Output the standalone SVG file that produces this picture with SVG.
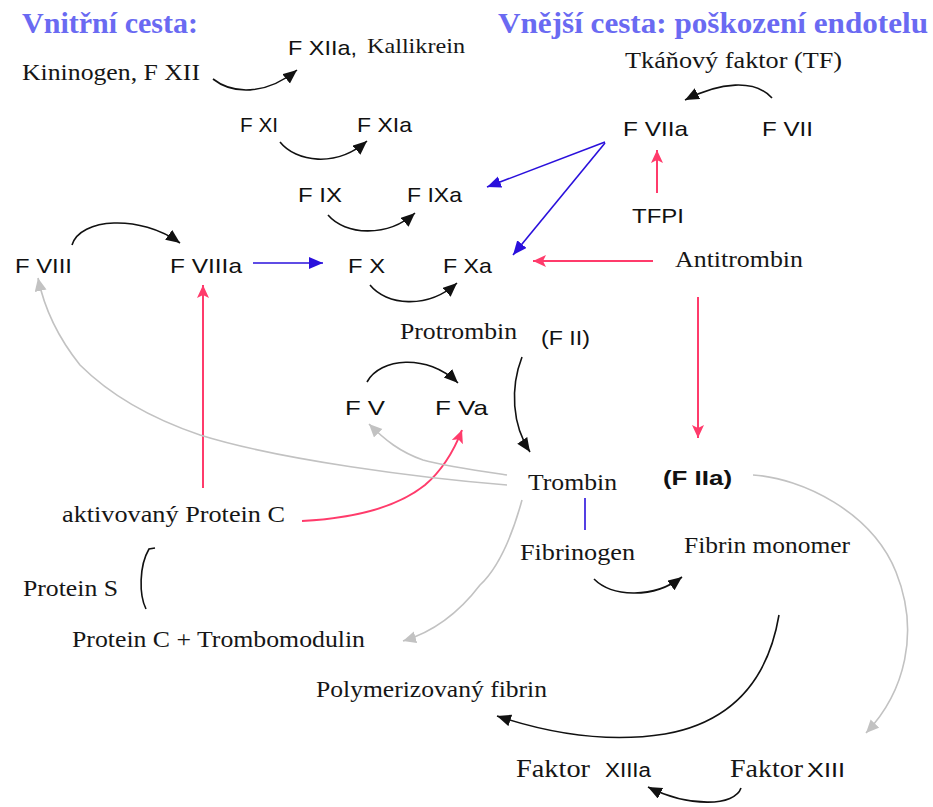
<svg xmlns="http://www.w3.org/2000/svg" width="933" height="807" viewBox="0 0 933 807">
<style>
.t{font-family:"Liberation Serif","Times New Roman",serif;font-size:24px;fill:#161616}
.s{font-family:"Liberation Sans",Arial,sans-serif;font-size:21px;fill:#111}
.h{font-family:"Liberation Serif","Times New Roman",serif;font-size:30px;font-weight:bold;fill:#6a6af2}
.k{fill:none;stroke:#111;stroke-width:1.6}
.b{fill:none;stroke:#2a10dc;stroke-width:1.6}
.r{fill:none;stroke:#ff3b6b;stroke-width:2}
.g{fill:none;stroke:#c2c2c2;stroke-width:1.6}
</style>
<defs>
<marker id="ak" markerUnits="userSpaceOnUse" markerWidth="16" markerHeight="14" refX="14" refY="6" orient="auto"><path d="M0,0L14,6L0,12z" fill="#111"/></marker>
<marker id="ab" markerUnits="userSpaceOnUse" markerWidth="16" markerHeight="14" refX="14" refY="6" orient="auto"><path d="M0,0L14,6L0,12z" fill="#2a10dc"/></marker>
<marker id="ar" markerUnits="userSpaceOnUse" markerWidth="16" markerHeight="14" refX="13" refY="6" orient="auto"><path d="M0,0L13,6L0,12l3,-6z" fill="#ff3b6b"/></marker>
<marker id="ag" markerUnits="userSpaceOnUse" markerWidth="16" markerHeight="14" refX="13" refY="6" orient="auto"><path d="M0,0L13,6L0,12z" fill="#c2c2c2"/></marker>
</defs>
<rect width="933" height="807" fill="#fff"/>

<g id="connectors">
<path class="k" d="M213,79 C232,94 265,96 297,70" marker-end="url(#ak)"/>
<path class="k" d="M280,142 C296,162 336,168 367,141" marker-end="url(#ak)"/>
<path class="k" d="M328,215 C345,235 387,238 415,213" marker-end="url(#ak)"/>
<path class="k" d="M72,245 C80,218 140,214 180,243" marker-end="url(#ak)"/>
<path class="k" d="M370,285 C386,305 427,310 457,283" marker-end="url(#ak)"/>
<path class="k" d="M367,382 C380,358 427,353 458,383" marker-end="url(#ak)"/>
<path class="k" d="M522,357 C510,388 512,425 530,452" marker-end="url(#ak)"/>
<path class="k" d="M772,98 C755,79 720,82 685,100" marker-end="url(#ak)"/>
<path class="k" d="M594,579 C611,596 652,600 682,577" marker-end="url(#ak)"/>
<path class="k" d="M779,615 C768,680 732,722 665,734 C615,742 560,737 497,716" marker-end="url(#ak)"/>
<path class="k" d="M741,788 C735,806 690,808 648,787" marker-end="url(#ak)"/>
<path class="k" d="M155,548 L149,549 C139,566 139,595 146,609"/>

<path class="b" d="M253,263 L323,263" marker-end="url(#ab)"/>
<path class="b" d="M605,142 L487,187" marker-end="url(#ab)"/>
<path class="b" d="M605,143 L513,255" marker-end="url(#ab)"/>
<path class="b" d="M585,498 L585,530"/>

<path class="r" d="M657,193 L657,150" marker-end="url(#ar)"/>
<path class="r" d="M653,261 L533,261" marker-end="url(#ar)"/>
<path class="r" d="M698,297 L698,438" marker-end="url(#ar)"/>
<path class="r" d="M203,488 L203,285" marker-end="url(#ar)"/>
<path class="r" d="M302,521 C360,518 400,505 425,485 C445,468 455,448 462,430" marker-end="url(#ar)"/>

<path class="g" d="M507,485 C420,478 280,460 200,435 C150,418 110,395 80,365 C60,340 45,312 38,278" marker-end="url(#ag)"/>
<path class="g" d="M507,475 C480,471 445,466 423,460 C400,452 385,440 369,424" marker-end="url(#ag)"/>
<path class="g" d="M522,500 C511,540 496,570 480,585 C464,606 440,630 403,641" marker-end="url(#ag)"/>
<path class="g" d="M753,475 C802,478 872,512 896,572 C920,632 905,692 866,733" marker-end="url(#ag)"/>
</g>

<g id="title-vnitrni"><text class="h" x="22" y="33" textLength="176" lengthAdjust="spacingAndGlyphs">Vnitřní cesta:</text></g>
<g id="title-vnejsi"><text class="h" x="498" y="33" textLength="430" lengthAdjust="spacingAndGlyphs">Vnější cesta: poškození endotelu</text></g>

<g id="kininogen"><text class="t" x="22" y="80" textLength="178" lengthAdjust="spacingAndGlyphs">Kininogen, F XII</text></g>
<g id="fxiia"><text class="s" x="288" y="55" textLength="69" lengthAdjust="spacingAndGlyphs">F XIIa,</text><text class="t" x="367" y="53" style="font-size:21px" textLength="98" lengthAdjust="spacingAndGlyphs">Kallikrein</text></g>
<g id="fxi"><text class="s" x="240" y="132" textLength="38" lengthAdjust="spacingAndGlyphs">F XI</text></g>
<g id="fxia"><text class="s" x="357" y="132" textLength="55" lengthAdjust="spacingAndGlyphs">F XIa</text></g>
<g id="fix"><text class="s" x="298" y="202" textLength="44" lengthAdjust="spacingAndGlyphs">F IX</text></g>
<g id="fixa"><text class="s" x="407" y="202" textLength="55" lengthAdjust="spacingAndGlyphs">F IXa</text></g>
<g id="fviii"><text class="s" x="15" y="273" textLength="57" lengthAdjust="spacingAndGlyphs">F VIII</text></g>
<g id="fviiia"><text class="s" x="170" y="273" textLength="72" lengthAdjust="spacingAndGlyphs">F VIIIa</text></g>
<g id="fx"><text class="s" x="348" y="273" textLength="37" lengthAdjust="spacingAndGlyphs">F X</text></g>
<g id="fxa"><text class="s" x="443" y="273" textLength="49" lengthAdjust="spacingAndGlyphs">F Xa</text></g>
<g id="tf"><text class="t" x="625" y="68" textLength="217" lengthAdjust="spacingAndGlyphs">Tkáňový faktor (TF)</text></g>
<g id="fviia"><text class="s" x="623" y="136" textLength="65" lengthAdjust="spacingAndGlyphs">F VIIa</text></g>
<g id="fvii"><text class="s" x="762" y="136" textLength="51" lengthAdjust="spacingAndGlyphs">F VII</text></g>
<g id="tfpi"><text class="s" x="632" y="223" textLength="52" lengthAdjust="spacingAndGlyphs">TFPI</text></g>
<g id="antitrombin"><text class="t" x="675" y="267" textLength="128" lengthAdjust="spacingAndGlyphs">Antitrombin</text></g>
<g id="protrombin"><text class="t" x="400" y="339" textLength="117" lengthAdjust="spacingAndGlyphs">Protrombin</text><text class="s" x="541" y="345" textLength="49" lengthAdjust="spacingAndGlyphs">(F II)</text></g>
<g id="fv"><text class="s" x="345" y="415" textLength="40" lengthAdjust="spacingAndGlyphs">F V</text></g>
<g id="fva"><text class="s" x="435" y="415" textLength="53" lengthAdjust="spacingAndGlyphs">F Va</text></g>
<g id="trombin"><text class="t" x="528" y="490" textLength="89" lengthAdjust="spacingAndGlyphs">Trombin</text><text class="s" x="663" y="485" style="font-weight:bold" textLength="69" lengthAdjust="spacingAndGlyphs">(F IIa)</text></g>
<g id="fibrinogen"><text class="t" x="520" y="560" textLength="115" lengthAdjust="spacingAndGlyphs">Fibrinogen</text></g>
<g id="fibrin-monomer"><text class="t" x="684" y="553" textLength="166" lengthAdjust="spacingAndGlyphs">Fibrin monomer</text></g>
<g id="apc"><text class="t" x="62" y="522" textLength="223" lengthAdjust="spacingAndGlyphs">aktivovaný Protein C</text></g>
<g id="protein-s"><text class="t" x="23" y="596" textLength="95" lengthAdjust="spacingAndGlyphs">Protein S</text></g>
<g id="pc-tm"><text class="t" x="72" y="647" textLength="293" lengthAdjust="spacingAndGlyphs">Protein C + Trombomodulin</text></g>
<g id="polyfibrin"><text class="t" x="316" y="697" textLength="231" lengthAdjust="spacingAndGlyphs">Polymerizovaný fibrin</text></g>
<g id="fxiiia"><text class="t" x="516" y="777" style="font-size:25px" textLength="74" lengthAdjust="spacingAndGlyphs">Faktor</text><text class="s" x="605" y="777" style="font-size:20px" textLength="46" lengthAdjust="spacingAndGlyphs">XIIIa</text></g>
<g id="fxiii"><text class="t" x="730" y="777" style="font-size:25px" textLength="73" lengthAdjust="spacingAndGlyphs">Faktor</text><text class="s" x="807" y="777" style="font-size:20px" textLength="38" lengthAdjust="spacingAndGlyphs">XIII</text></g>
</svg>
